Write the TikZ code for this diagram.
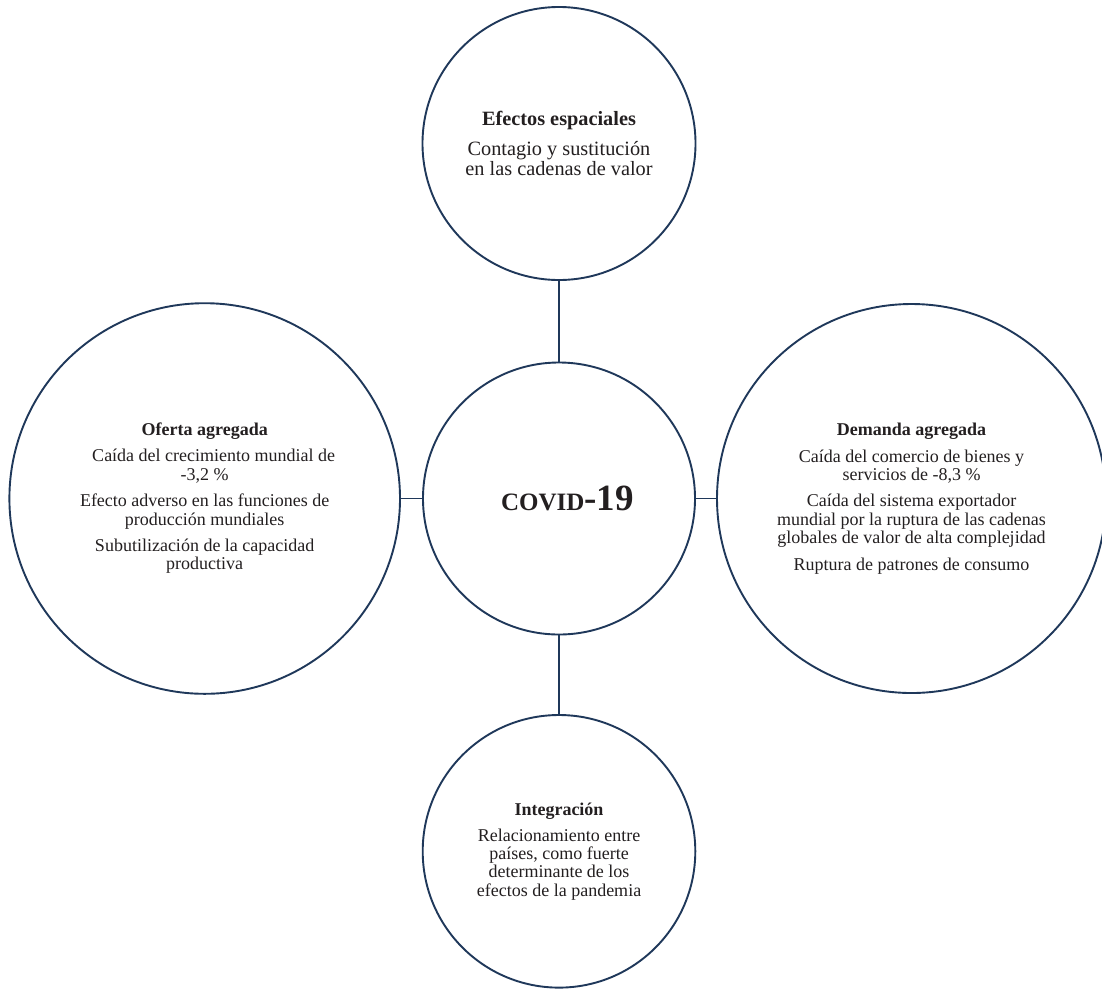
\documentclass[tikz,border=0pt]{standalone}
\usepackage{fontspec}
\setmainfont{Liberation Serif}
\definecolor{navy}{RGB}{31,56,90}
\definecolor{ink}{RGB}{35,31,32}
\begin{document}
\begin{tikzpicture}[x=1pt,y=-1pt,
  bubble/.style={circle,draw=navy,line width=1.9pt,inner sep=0pt,align=center,text=ink},
  small/.style={font=\fontsize{18}{18.4}\selectfont},
  big/.style={font=\fontsize{20.3}{20}\selectfont},
  link/.style={draw=navy,line width=1.9pt}]
\useasboundingbox[fill=white] (0,0) rectangle (1102,989);
\node[bubble,big,minimum size=273pt] (top) at (559,143.5)
  {\textbf{Efectos espaciales}\\[10pt]Contagio y sustitución\\en las cadenas de valor};
\node[bubble,minimum size=272pt] (covid) at (559,498.5)
  {\hspace*{17pt}{\fontsize{25}{25}\selectfont\textbf{COVID}}{\fontsize{37}{37}\selectfont\textbf{-19}}};
\node[bubble,small,minimum size=390.6pt] (left) at (204.7,498.5)
  {\textbf{Oferta agregada}\\[7.6pt]\hspace*{18pt}Caída del crecimiento mundial de\\-3,2~\%\\[8pt]Efecto adverso en las funciones de\\producción mundiales\\[8pt]Subutilización de la capacidad\\productiva};
\node[bubble,small,minimum size=389pt] (right) at (911.5,498.5)
  {\textbf{Demanda agregada}\\[8pt]Caída del comercio de bienes y\\servicios de -8,3~\%\\[8pt]Caída del sistema exportador\\mundial por la ruptura de las cadenas\\globales de valor de alta complejidad\\[8pt]Ruptura de patrones de consumo};
\node[bubble,small,minimum size=272.6pt] (bottom) at (559,851.3)
  {\textbf{Integración}\\[7.6pt]Relacionamiento entre\\países, como fuerte\\determinante de los\\efectos de la pandemia};
\draw[link] (top.south) -- (covid.north);
\draw[link] (left.east) -- (covid.west);
\draw[link] (covid.east) -- (right.west);
\draw[link] (covid.south) -- (bottom.north);
\end{tikzpicture}
\end{document}
